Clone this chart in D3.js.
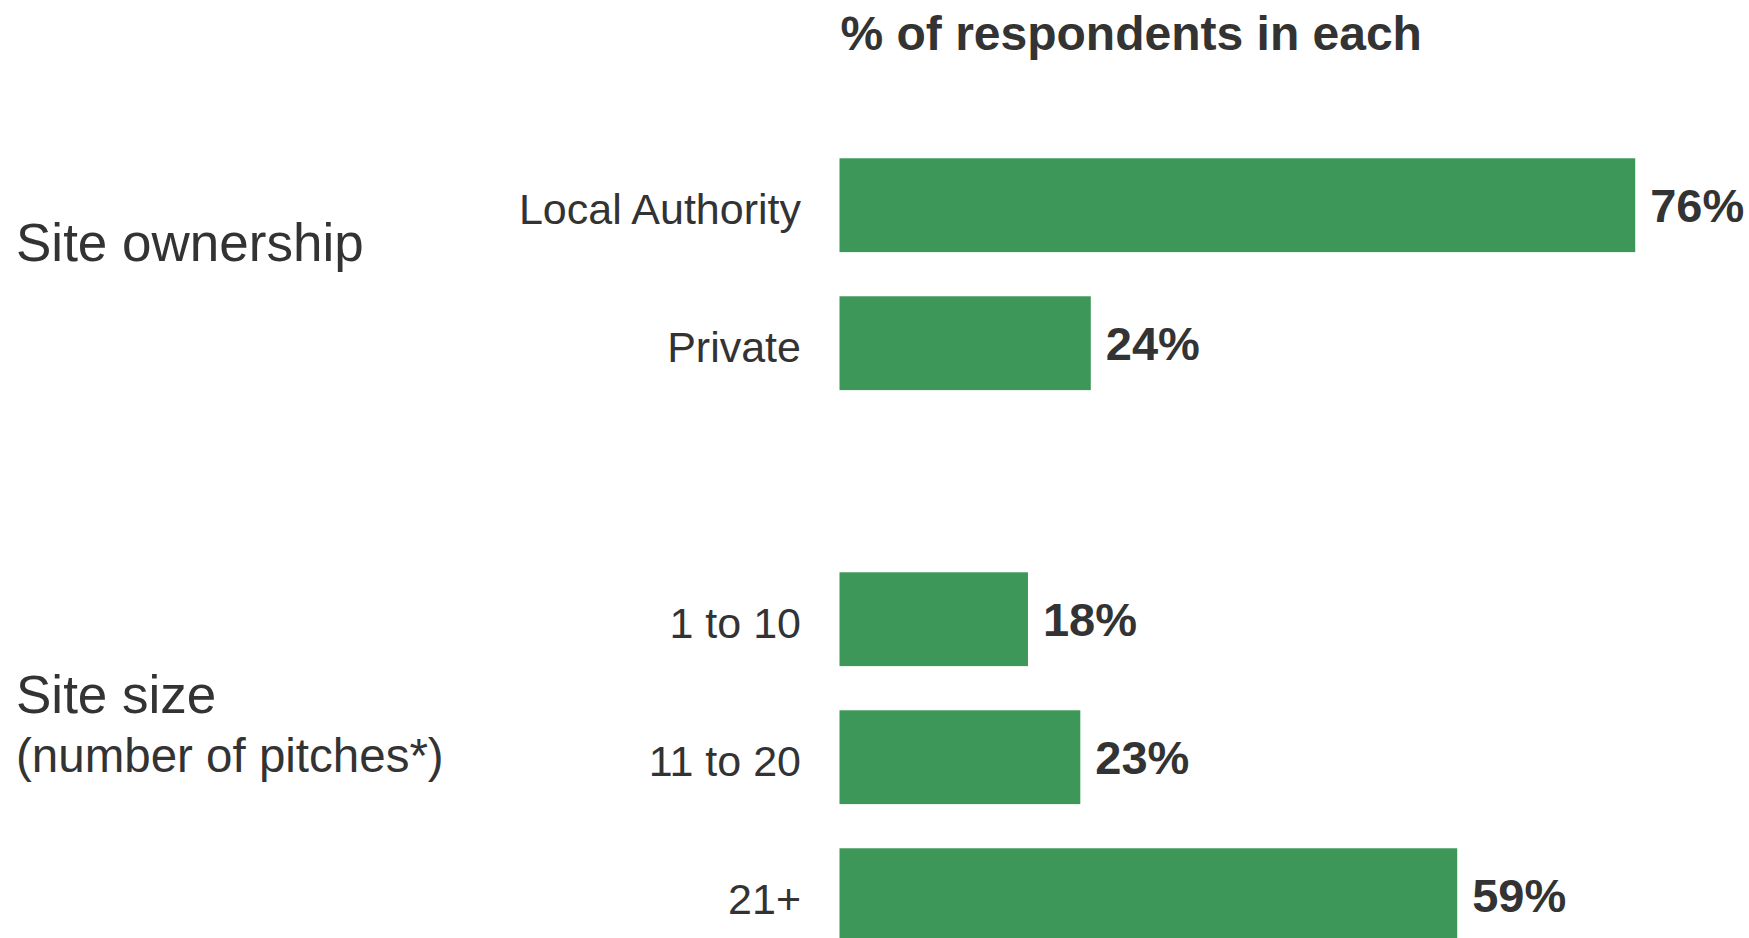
<!DOCTYPE html>
<html>
<head>
<meta charset="utf-8">
<script src="https://cdn.jsdelivr.net/npm/d3@7"></script>
<style>
  html, body { margin: 0; padding: 0; background: #ffffff; }
  svg { display: block; }
  text { font-family: "Liberation Sans", Arial, Helvetica, sans-serif; fill: #333333; }
</style>
</head>
<body>
<script>
// Survey breakdown: share of respondents by site ownership and site size
const categories = ["Local Authority", "Private", "1 to 10", "11 to 20", "21+"];
const values = [76, 24, 18, 23, 59];
const groupIndex = [0, 0, 1, 1, 1];
const groupTitles = ["Site ownership", "Site size"];
const groupSubtitles = ["", "(number of pitches*)"];
const chartTitle = "% of respondents in each";

const W = 1749, H = 938;
const barColor = "#3d9758";

const svg = d3.select("body").append("svg")
  .attr("width", W).attr("height", H);

// one empty slot separates the two groups
const slot = categories.map((c, i) => i + groupIndex[i]);

const x = d3.scaleLinear().domain([0, 100]).range([839.5, 839.5 + 1047]);
const y = d3.scaleBand()
  .domain(d3.range(6))
  .range([136.2, 964.2])
  .paddingInner(0.32)
  .paddingOuter(0.16);

const rows = categories.map((c, i) => ({ name: c, value: values[i], slot: slot[i], group: groupIndex[i] }));
const mid = d => y(d.slot) + y.bandwidth() / 2;

// bars
svg.append("g").selectAll("rect").data(rows).join("rect")
  .attr("x", x(0))
  .attr("y", d => y(d.slot))
  .attr("width", d => x(d.value) - x(0))
  .attr("height", y.bandwidth())
  .attr("fill", barColor);

// value labels
svg.append("g").selectAll("text").data(rows).join("text")
  .attr("x", d => x(d.value) + 15)
  .attr("y", d => mid(d) + 16.3)
  .attr("font-size", 47)
  .attr("font-weight", "bold")
  .text(d => d.value + "%");

// category labels
svg.append("g").selectAll("text").data(rows).join("text")
  .attr("x", 801)
  .attr("y", d => mid(d) + 18.5)
  .attr("text-anchor", "end")
  .attr("font-size", 43)
  .text(d => d.name);

// group headings on the left
const firstOfGroup = groupTitles.map((g, gi) => rows.find(r => r.group === gi));
const headOffset = [56, 93.5];
groupTitles.forEach((g, gi) => {
  const base = mid(firstOfGroup[gi]) + headOffset[gi];
  svg.append("text")
    .attr("x", 16)
    .attr("y", base)
    .attr("font-size", 53)
    .text(g);
  if (groupSubtitles[gi]) {
    svg.append("text")
      .attr("x", 16)
      .attr("y", base + 59.5)
      .attr("font-size", 47.5)
      .text(groupSubtitles[gi]);
  }
});

// heading above the bars
svg.append("text")
  .attr("x", x(0) + 1)
  .attr("y", 50)
  .attr("font-size", 48)
  .attr("font-weight", "bold")
  .text(chartTitle);
</script>
</body>
</html>
